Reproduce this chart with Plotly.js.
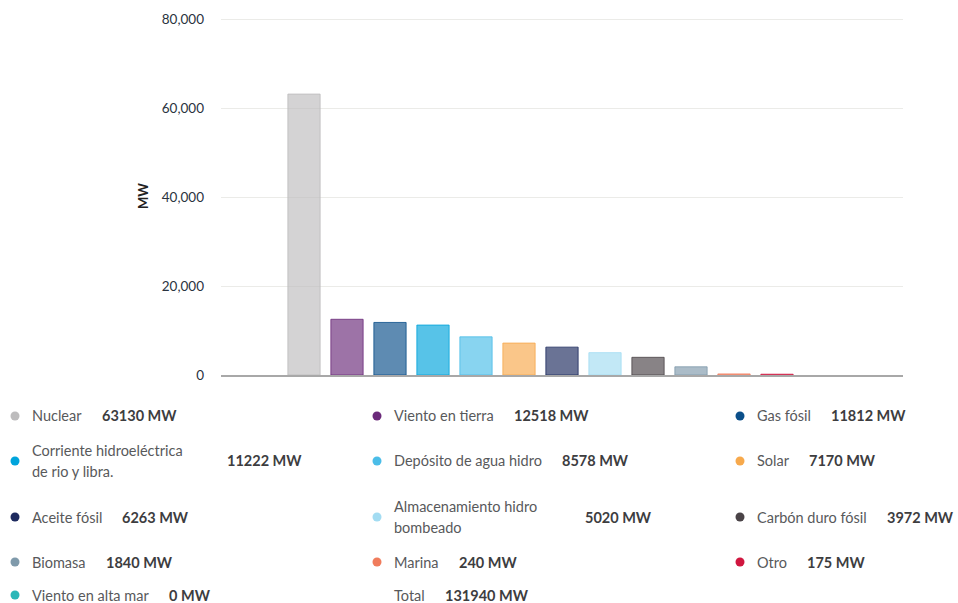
<!DOCTYPE html>
<html>
<head>
<meta charset="utf-8">
<script src="https://cdn.plot.ly/plotly-3.0.1.min.js"></script>
<style>html,body{margin:0;padding:0;background:#fff;}#chart{width:958px;height:603px;}</style>
</head>
<body>
<div id="chart"></div>
<script>
// ---- data ----
const categories = ["Nuclear", "Viento en tierra", "Gas fósil", "Corriente hidroeléctrica de rio y libra.", "Depósito de agua hidro", "Solar", "Aceite fósil", "Almacenamiento hidro bombeado", "Carbón duro fósil", "Biomasa", "Marina", "Otro", "Viento en alta mar"];
const legendLabels = ["Nuclear", "Viento en tierra", "Gas fósil", "Corriente hidroeléctrica<br>de rio y libra.", "Depósito de agua hidro", "Solar", "Aceite fósil", "Almacenamiento hidro<br>bombeado", "Carbón duro fósil", "Biomasa", "Marina", "Otro", "Viento en alta mar"];
const valuesMW = [63130, 12518, 11812, 11222, 8578, 7170, 6263, 5020, 3972, 1840, 240, 175, 0];
const dotColors = ["#bdbcbd", "#6b2a7a", "#0b4f8a", "#00a4dc", "#4bbde8", "#f7a94c", "#1d2a5e", "#a3dcf2", "#4a4347", "#7f9aab", "#f07c5c", "#d0163f", "#2ab7b8"];
const totalLabel = "Total";
const totalMW = 131940;
const yTicks = [0, 20000, 40000, 60000, 80000];
const yTickText = ["0", "20,000", "40,000", "60,000", "80,000"];

// ---- layout helpers ----
const W = 958, H = 603;
const M = {l: 221, r: 55, t: 17, b: 228};
const PW = W - M.l - M.r, PH = H - M.t - M.b;
const Y_MAX = 80000 * PH / 356;
const px = x => (x - M.l) / PW;
const py = y => (H - M.b - y) / PH;

function hexA(hex, a) {
  const n = parseInt(hex.slice(1), 16);
  return `rgba(${(n>>16)&255},${(n>>8)&255},${n&255},${a})`;
}

const FONT = "Lato, 'Open Sans', sans-serif";
const LSIZE = 14.5;
const ctx = document.createElement('canvas').getContext('2d');
function textW(t, bold) {
  ctx.font = (bold ? 'bold ' : '') + LSIZE + 'px Lato';
  return ctx.measureText(t).width;
}

const trace = {
  type: 'bar',
  x: categories.map((c, i) => i),
  y: valuesMW,
  width: 0.75,
  marker: {
    color: dotColors.map(c => hexA(c, 0.66)),
    line: {color: dotColors.map(c => hexA(c, 0.8)), width: valuesMW.map(v => v > 0 ? 1 : 0)}
  },
  hovertext: categories,
  showlegend: false
};

const colDotX = [15, 377, 740];
const rowY = [416, 461, 517, 562, 595];
const twoLineValueX = [225, 583, 0];

const annotations = [];
const shapes = [];

function addEntry(i, label, val, color) {
  const r = Math.floor(i / 3), c = i % 3;
  const yc = rowY[r];
  const lx = colDotX[c] + 15;
  if (color) {
    shapes.push({type: 'circle', xref: 'paper', yref: 'paper', xsizemode: 'pixel', ysizemode: 'pixel',
      xanchor: px(colDotX[c]), yanchor: py(yc), x0: -4.5, x1: 4.5, y0: -4.5, y1: 4.5,
      fillcolor: color, line: {width: 0}});
  }
  const valText = `<b>${val} MW</b>`;
  const lf = {family: FONT, size: LSIZE, color: '#58595b'};
  const vf = {family: FONT, size: LSIZE, color: '#3d3d3f'};
  if (label.indexOf('<br>') >= 0) {
    const parts = label.split('<br>');
    annotations.push({xref: 'paper', yref: 'paper', x: px(lx), y: py(yc - 10.5), xanchor: 'left', yanchor: 'middle',
      text: parts[0], showarrow: false, font: lf});
    annotations.push({xref: 'paper', yref: 'paper', x: px(lx), y: py(yc + 10.5), xanchor: 'left', yanchor: 'middle',
      text: parts[1], showarrow: false, font: lf});
    annotations.push({xref: 'paper', yref: 'paper', x: px(twoLineValueX[c]), y: py(yc), xanchor: 'left', yanchor: 'middle',
      text: valText, showarrow: false, font: vf});
  } else {
    annotations.push({xref: 'paper', yref: 'paper', x: px(lx), y: py(yc), xanchor: 'left', yanchor: 'middle',
      text: label, showarrow: false, font: lf});
    const vx = lx + textW(label, false) + 20;
    annotations.push({xref: 'paper', yref: 'paper', x: px(vx), y: py(yc), xanchor: 'left', yanchor: 'middle',
      text: valText, showarrow: false, font: vf});
  }
}

legendLabels.forEach((l, i) => addEntry(i, l, valuesMW[i], dotColors[i]));
addEntry(13, totalLabel, totalMW, null);

const layout = {
  width: W, height: H,
  margin: M,
  paper_bgcolor: '#ffffff', plot_bgcolor: '#ffffff',
  font: {family: FONT, color: '#333'},
  showlegend: false,
  bargap: 0.25,
  xaxis: {
    range: [-1.93, 13.93], showticklabels: false, showgrid: false, zeroline: false,
    showline: true, linecolor: '#a8a8a8', linewidth: 1.5, ticks: '', fixedrange: true
  },
  yaxis: {
    range: [0, Y_MAX], tickvals: yTicks, ticktext: yTickText,
    showgrid: true, gridcolor: '#ebebe8', gridwidth: 1, zeroline: false,
    showline: false, ticks: '', ticklabelstandoff: 16,
    tickfont: {family: FONT, size: 13.5, color: '#2a3340'},
    title: {text: '<b>MW</b>', standoff: 10, font: {family: FONT, size: 13, color: '#222'}},
    automargin: false
  },
  annotations: annotations,
  shapes: shapes
};

Plotly.newPlot('chart', [trace], layout, {displayModeBar: false, staticPlot: true});
</script>
</body>
</html>
